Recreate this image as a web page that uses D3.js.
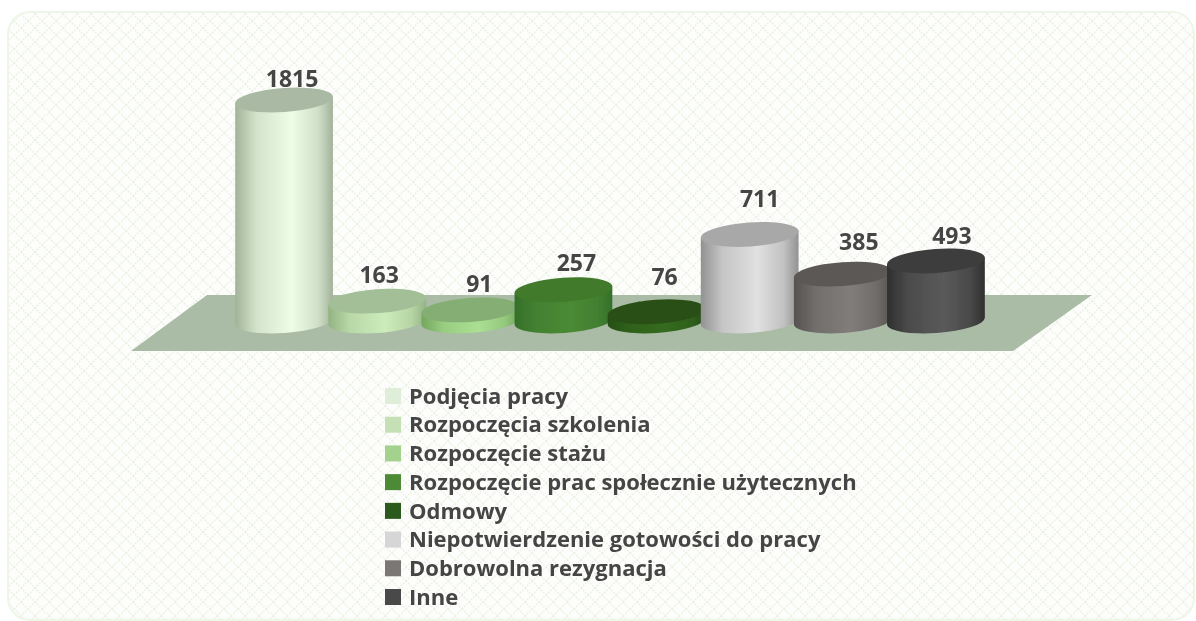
<!DOCTYPE html>
<html>
<head>
<meta charset="utf-8">
<script src="https://cdn.jsdelivr.net/npm/d3@7"></script>
<style>
  html, body { margin: 0; padding: 0; background: #fff; }
  svg { display: block; }
  text { font-family: "Open Sans", sans-serif; font-weight: 700; fill: #454545; }
</style>
</head>
<body>
<div id="chart"></div>
<script>
var categories = ["Podjęcia pracy", "Rozpoczęcia szkolenia", "Rozpoczęcie stażu",
  "Rozpoczęcie prac społecznie użytecznych", "Odmowy",
  "Niepotwierdzenie gotowości do pracy", "Dobrowolna rezygnacja", "Inne"];
var values = [1815, 163, 91, 257, 76, 711, 385, 493];

var legendColors = ["#dfeed8", "#c4e0b4", "#a2d28c", "#4e8a35", "#2c5a1a", "#d6d6d6", "#7a7775", "#4a4a4a"];
var edgeColors = ["#a3b39a", "#93b382", "#74a65e", "#35702a", "#254f15", "#929292", "#565250", "#2f2f2f"];
var lightColors = ["#eefde6", "#cdecbb", "#abe093", "#4a8a34", "#356b20", "#e0e0e0", "#807d7b", "#5a5a5a"];
var topColors = ["#a9b9a3", "#a3bf97", "#85ae75", "#3f7a2c", "#2a5016", "#a8a8a8", "#5c5856", "#3e3e3e"];

// label offsets from the top of each cylinder, they were placed by hand in the original
var labelDx = [8, 2, 9, 13, 8, 10, 16, 16];
var labelDy = [-21, -26, -26, -27, -35, -35, -32, -25];

var width = 1196, height = 621;
var rx = 49, ry = 12, tilt = -4;

var svg = d3.select("#chart").append("svg")
  .attr("width", width)
  .attr("height", height);

var defs = svg.append("defs");

var soft = defs.append("filter").attr("id", "soft");
soft.append("feGaussianBlur").attr("stdDeviation", 0.6);

var weave = defs.append("pattern")
  .attr("id", "weave")
  .attr("width", 14)
  .attr("height", 14)
  .attr("patternUnits", "userSpaceOnUse");
weave.append("rect").attr("width", 14).attr("height", 14).attr("fill", "#fdfefc");
weave.append("path")
  .attr("d", "M0 7L7 0M7 14L14 7M0 7L7 14M7 0L14 7")
  .attr("stroke", "#e9f0e4")
  .attr("stroke-width", 1.6)
  .attr("stroke-dasharray", "1.5 1.5")
  .attr("fill", "none");

categories.forEach(function (c, i) {
  var g = defs.append("linearGradient").attr("id", "side" + i);
  g.append("stop").attr("offset", "0%").attr("stop-color", edgeColors[i]);
  g.append("stop").attr("offset", "22%").attr("stop-color", d3.interpolateRgb(edgeColors[i], lightColors[i])(0.65));
  g.append("stop").attr("offset", "58%").attr("stop-color", lightColors[i]);
  g.append("stop").attr("offset", "85%").attr("stop-color", d3.interpolateRgb(edgeColors[i], lightColors[i])(0.6));
  g.append("stop").attr("offset", "100%").attr("stop-color", edgeColors[i]);
});

// panel
svg.append("rect")
  .attr("x", 8)
  .attr("y", 12)
  .attr("width", 1186)
  .attr("height", 608)
  .attr("rx", 22)
  .attr("fill", "url(#weave)")
  .attr("stroke", "#eef6e8")
  .attr("stroke-width", 2);

var chart = svg.append("g").attr("filter", "url(#soft)");

// floor
chart.append("path")
  .attr("d", "M131 351L207 295L1092 295L1013 351Z")
  .attr("fill", "#aabba6");

var x = d3.scaleBand()
  .domain(categories)
  .range([237.5, 982.5]);

var y = d3.scaleLinear()
  .domain([0, 1815])
  .range([321, 100]);

var dx = rx * Math.cos(tilt * Math.PI / 180);
var dy = rx * Math.sin(tilt * Math.PI / 180);

function cx(d) { return x(d) + x.bandwidth() / 2; }

var bars = chart.selectAll(".bar")
  .data(categories)
  .enter().append("g")
  .attr("class", "bar");

bars.append("path")
  .attr("d", function (d, i) {
    var c = cx(d), top = y(values[i]), base = y(0);
    return "M" + (c - dx) + " " + (top - dy) +
      "L" + (c - dx) + " " + (base - dy) +
      "A" + rx + " " + ry + " " + tilt + " 0 0 " + (c + dx) + " " + (base + dy) +
      "L" + (c + dx) + " " + (top + dy) + "Z";
  })
  .attr("fill", function (d, i) { return "url(#side" + i + ")"; });

bars.append("ellipse")
  .attr("rx", rx)
  .attr("ry", ry)
  .attr("transform", function (d, i) {
    return "translate(" + cx(d) + "," + y(values[i]) + ") rotate(" + tilt + ")";
  })
  .attr("fill", function (d, i) { return topColors[i]; });

// value labels
chart.selectAll(".value")
  .data(categories)
  .enter().append("text")
  .attr("class", "value")
  .attr("x", function (d, i) { return cx(d) + labelDx[i]; })
  .attr("y", function (d, i) { return y(values[i]) + labelDy[i]; })
  .attr("dy", "0.35em")
  .attr("text-anchor", "middle")
  .style("font-size", "23px")
  .text(function (d, i) { return values[i]; });

// legend
var legendY = d3.scalePoint()
  .domain(categories)
  .range([396, 597]);

var legend = chart.selectAll(".legend")
  .data(categories)
  .enter().append("g")
  .attr("class", "legend")
  .attr("transform", function (d) { return "translate(385," + legendY(d) + ")"; });

legend.append("rect")
  .attr("x", 0)
  .attr("y", -8)
  .attr("width", 16)
  .attr("height", 16)
  .attr("fill", function (d, i) { return legendColors[i]; });

legend.append("text")
  .attr("x", 24)
  .attr("dy", "0.35em")
  .style("font-size", "22px")
  .text(function (d) { return d; });
</script>
</body>
</html>
